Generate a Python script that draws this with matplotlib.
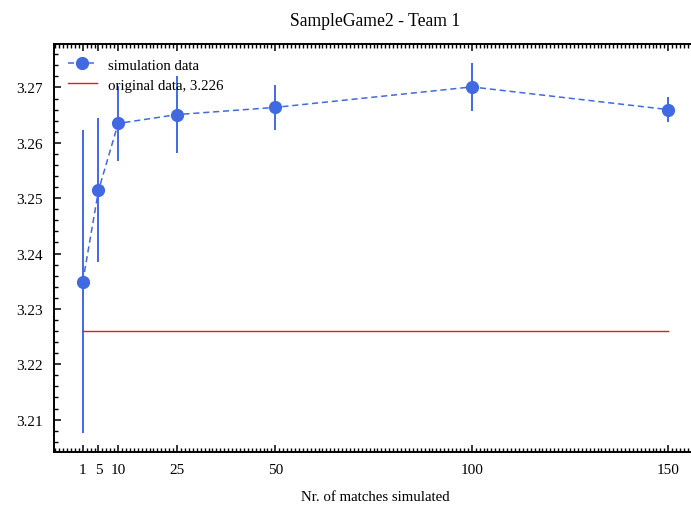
import matplotlib
matplotlib.use("Agg")
import matplotlib.pyplot as plt
from matplotlib.ticker import AutoMinorLocator
import numpy as np

# matches simulated and the resulting mean / spread
matches = [1, 5, 10, 25, 50, 100, 150]
sim_mean = [3.2349, 3.2514, 3.2635, 3.2651, 3.2664, 3.2701, 3.2660]
sim_err = [0.0274, 0.0130, 0.0068, 0.0070, 0.0041, 0.0044, 0.0023]
original_value = 3.226

plt.rcParams['font.family'] = ['Liberation Serif', 'DejaVu Serif']
plt.rcParams['mathtext.fontset'] = 'stix'

fig = plt.figure(figsize=(6.91, 5.06), dpi=100)
ax = fig.add_axes([53.5 / 691, 53 / 506, 644 / 691, 408 / 506])

blue = '#4169e1'
ax.plot(matches, sim_mean, marker='o', linestyle=(0, (4, 2.5)), color=blue,
        markersize=8.5, linewidth=1.1, label='simulation data')
ax.errorbar(matches, sim_mean, yerr=sim_err, fmt='none', ecolor=blue,
            elinewidth=1.4, capsize=0)
ax.plot([matches[0], matches[-1]], [original_value, original_value],
        color='#e41a1c', linewidth=1.0, label=f'original data, {original_value}')

ax.set_xticks(matches)
ax.set_xticklabels([str(m) for m in matches])
ax.xaxis.set_minor_locator(AutoMinorLocator())
ax.yaxis.set_minor_locator(AutoMinorLocator())
ax.tick_params(which='both', direction='in', top=True, right=True, labelsize=11, pad=8)
ax.tick_params(which='major', length=5, width=1.1)
ax.tick_params(which='minor', length=2.8, width=1.0)
for sp in ax.spines.values():
    sp.set_linewidth(1.4)

ax.set_title('SampleGame2 - Team 1', fontsize=12.7, pad=14)
ax.set_xlabel('Nr. of matches simulated', fontsize=10.7, labelpad=10)
ax.legend(loc='upper left', frameon=False, fontsize=10.7, handlelength=2.0,
          borderaxespad=0.55, labelspacing=0.45, handletextpad=0.75)

fig.savefig('out.png', dpi=100)
